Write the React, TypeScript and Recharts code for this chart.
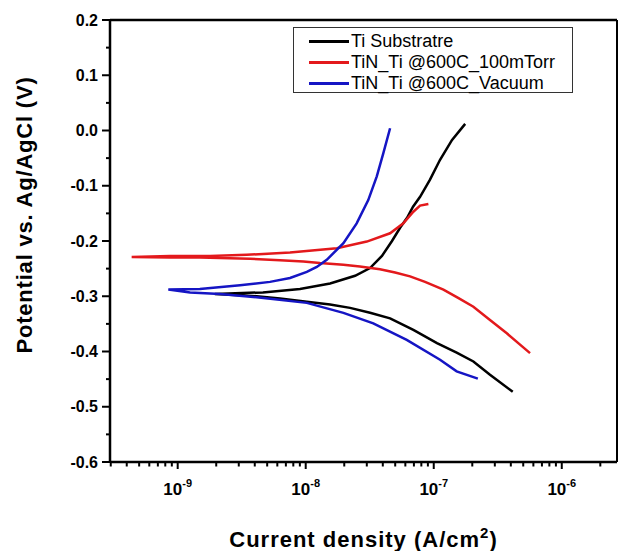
import React from "react";
import { LineChart, Line, XAxis, YAxis } from "recharts";

const FONT = "Liberation Sans, Arial, Helvetica, sans-serif";

// Ti Substratre: current density (A/cm2) and potential (V), cathodic end -> tip -> anodic end
const tiCurrent = [4.14e-7, 2.75e-7, 2.04e-7, 1.51e-7, 1.06e-7, 6.93e-8, 4.56e-8, 3.18e-8, 2.22e-8, 1.55e-8, 1.02e-8, 6.3e-9, 4.14e-9, 3.07e-9, 1.95e-9, 4.63e-9, 9.02e-9, 1.55e-8, 2.43e-8, 3.18e-8, 3.94e-8, 4.72e-8, 5.46e-8, 6.19e-8, 6.89e-8, 7.82e-8, 9.35e-8, 1.12e-7, 1.39e-7, 1.76e-7];
const tiPotential = [-0.473, -0.442, -0.418, -0.402, -0.385, -0.361, -0.34, -0.33, -0.321, -0.315, -0.31, -0.304, -0.3, -0.298, -0.296, -0.293, -0.287, -0.277, -0.263, -0.249, -0.227, -0.2, -0.176, -0.158, -0.138, -0.12, -0.089, -0.053, -0.017, 0.012];

// TiN_Ti @600C_100mTorr
const torrCurrent = [5.65e-7, 3.72e-7, 2.75e-7, 2.04e-7, 1.55e-7, 1.19e-7, 8.55e-8, 6.53e-8, 4.99e-8, 3.8e-8, 2.65e-8, 1.97e-8, 1.29e-8, 9.58e-9, 6.3e-9, 3.67e-9, 1.49e-9, 8.71e-10, 4.37e-10, 8.71e-10, 1.79e-9, 3.46e-9, 7.54e-9, 1.75e-8, 3.0e-8, 4.56e-8, 5.79e-8, 6.93e-8, 7.82e-8, 9.08e-8];
const torrPotential = [-0.403, -0.367, -0.343, -0.319, -0.303, -0.288, -0.274, -0.264, -0.257, -0.251, -0.246, -0.243, -0.24, -0.237, -0.235, -0.232, -0.23, -0.23, -0.229, -0.227, -0.227, -0.225, -0.221, -0.213, -0.201, -0.186, -0.168, -0.147, -0.136, -0.133];

// TiN_Ti @600C_Vacuum
const vacCurrent = [2.21e-7, 1.51e-7, 1.12e-7, 6.15e-8, 3.37e-8, 1.97e-8, 1.02e-8, 4.14e-9, 2.14e-9, 1.25e-9, 8.45e-10, 1.49e-9, 3.07e-9, 5.26e-9, 7.54e-9, 1.02e-8, 1.22e-8, 1.46e-8, 1.97e-8, 2.5e-8, 3.08e-8, 3.59e-8, 4.04e-8, 4.56e-8];
const vacPotential = [-0.449, -0.436, -0.415, -0.379, -0.349, -0.33, -0.312, -0.302, -0.296, -0.293, -0.288, -0.287, -0.28, -0.274, -0.267, -0.256, -0.247, -0.234, -0.204, -0.168, -0.126, -0.083, -0.041, 0.004];

const seriesNames = ["Ti Substratre", "TiN_Ti @600C_100mTorr", "TiN_Ti @600C_Vacuum"];
const seriesColors = ["#000000", "#e3191c", "#1515c4"];

const xDomain = [2.96e-10, 2.7e-6];
const xTicks = [
  3e-10, 4e-10, 5e-10, 6e-10, 7e-10, 8e-10, 9e-10,
  1e-9, 2e-9, 3e-9, 4e-9, 5e-9, 6e-9, 7e-9, 8e-9, 9e-9,
  1e-8, 2e-8, 3e-8, 4e-8, 5e-8, 6e-8, 7e-8, 8e-8, 9e-8,
  1e-7, 2e-7, 3e-7, 4e-7, 5e-7, 6e-7, 7e-7, 8e-7, 9e-7,
  1e-6, 2e-6,
];
const xMajor = [1e-9, 1e-8, 1e-7, 1e-6];
const xMajorExp = ["-9", "-8", "-7", "-6"];

const yDomain = [-0.6, 0.2];
const yTicks = [-0.6, -0.55, -0.5, -0.45, -0.4, -0.35, -0.3, -0.25, -0.2, -0.15, -0.1, -0.05, 0, 0.05, 0.1, 0.15, 0.2];
const yLabels = ["-0.6", "-0.5", "-0.4", "-0.3", "-0.2", "-0.1", "0.0", "0.1", "0.2"];

const xTitle = "Current density (A/cm";
const xTitleSup = "2";
const yTitle = "Potential vs. Ag/AgCl (V)";

// layout of the chart (page pixels)
const W = 619;
const H = 551;
const PLOT = { left: 110, top: 20, right: 617, bottom: 462 };

const toPoints = (cur: number[], pot: number[]) => cur.map((c, k) => ({ i: c, v: pot[k] }));
const tiData = toPoints(tiCurrent, tiPotential);
const torrData = toPoints(torrCurrent, torrPotential);
const vacData = toPoints(vacCurrent, vacPotential);

const isMajorX = (v: number) => xMajor.findIndex((m) => Math.abs(m - v) / m < 1e-6);
const yLabelOf = (v: number) => yLabels.find((l) => Math.abs(parseFloat(l) - v) < 1e-6);

const renderXTick = (props: any) => {
  const { x, y, payload } = props;
  const idx = isMajorX(payload.value);
  if (idx < 0) return <g />;
  return (
    <text x={x} y={Number(y) + 33} textAnchor="middle" fill="#000000" fontSize={17} fontWeight="bold" fontFamily={FONT}>
      <tspan>10</tspan>
      <tspan dy={-8} fontSize={11}>{xMajorExp[idx]}</tspan>
    </text>
  );
};

const renderYTick = (props: any) => {
  const { x, y, payload } = props;
  const lbl = yLabelOf(payload.value);
  if (lbl === undefined) return <g />;
  return (
    <text x={Number(x) - 12} y={Number(y) + 5.5} textAnchor="end" fill="#000000" fontSize={16} fontWeight="bold" fontFamily={FONT}>
      {lbl}
    </text>
  );
};

// tick marks and frame drawn on the same log/linear mapping as the axes
const lx0 = Math.log10(xDomain[0]);
const lx1 = Math.log10(xDomain[1]);
const px = (v: number) => PLOT.left + ((Math.log10(v) - lx0) / (lx1 - lx0)) * (PLOT.right - PLOT.left);
const py = (v: number) => PLOT.top + ((yDomain[1] - v) / (yDomain[1] - yDomain[0])) * (PLOT.bottom - PLOT.top);

function Overlay() {
  return (
    <svg width={W} height={H} style={{ position: "absolute", left: 0, top: 0, pointerEvents: "none" }}>
      <path d={`M${PLOT.left},${PLOT.top}L${PLOT.right},${PLOT.top}`} stroke="#000000" strokeWidth={2.5} fill="none" />
      <path d={`M${PLOT.right},${PLOT.top}L${PLOT.right},${PLOT.bottom}`} stroke="#000000" strokeWidth={2} fill="none" />
      {xTicks.map((v, k) => {
        const xx = px(v);
        const len = isMajorX(v) >= 0 ? 7 : 4.5;
        return <path key={`xm${k}`} d={`M${xx},${PLOT.bottom}L${xx},${PLOT.bottom + len}`} stroke="#000000" strokeWidth={2} fill="none" />;
      })}
      {yTicks.map((v, k) => {
        const yy = py(v);
        const len = yLabelOf(v) !== undefined ? 8 : 4;
        return <path key={`ym${k}`} d={`M${PLOT.left - len},${yy}L${PLOT.left},${yy}`} stroke="#000000" strokeWidth={2} fill="none" />;
      })}
      <text x={(PLOT.left + PLOT.right) / 2} y={547} textAnchor="middle" fill="#000000" fontSize={22} fontWeight="bold" fontFamily={FONT} letterSpacing={1}>
        <tspan>{xTitle}</tspan>
        <tspan dy={-9} fontSize={15}>{xTitleSup}</tspan>
        <tspan dy={9}>)</tspan>
      </text>
      <text transform="translate(32,215) rotate(-90)" textAnchor="middle" fill="#000000" fontSize={22} fontWeight="bold" fontFamily={FONT} letterSpacing={0.8}>
        {yTitle}
      </text>
    </svg>
  );
}

function LegendBox() {
  return (
    <div
      style={{
        position: "absolute",
        left: 293,
        top: 27,
        width: 280,
        height: 66,
        boxSizing: "border-box",
        border: "1px solid #333",
        background: "#fff",
        paddingTop: 3,
        fontFamily: FONT,
        fontSize: 18,
        color: "#000",
      }}
    >
      {seriesNames.map((name, k) => (
        <div key={k} style={{ height: 21, display: "flex", alignItems: "center", paddingLeft: 15 }}>
          <div style={{ width: 40, height: 2.5, background: seriesColors[k] }} />
          <span style={{ marginLeft: 2, whiteSpace: "nowrap", lineHeight: "21px" }}>{name}</span>
        </div>
      ))}
    </div>
  );
}

export default function App() {
  return (
    <div style={{ position: "absolute", left: 0, top: 0, width: W, height: H, background: "#fff" }}>
      <LineChart width={W} height={H} margin={{ top: PLOT.top, right: W - PLOT.right, bottom: 0, left: 0 }}>
        <XAxis
          dataKey="i"
          type="number"
          scale="log"
          domain={xDomain}
          allowDataOverflow
          ticks={xTicks}
          interval={0}
          tick={renderXTick}
          tickLine={false}
          tickSize={0}
          tickMargin={0}
          height={H - PLOT.bottom}
          axisLine={{ stroke: "#000", strokeWidth: 2.5 }}
        />
        <YAxis
          type="number"
          domain={yDomain}
          allowDataOverflow
          ticks={yTicks}
          interval={0}
          tick={renderYTick}
          tickLine={false}
          tickSize={0}
          tickMargin={0}
          width={PLOT.left}
          axisLine={{ stroke: "#000", strokeWidth: 2.5 }}
        />
        <Line data={tiData} dataKey="v" name={seriesNames[0]} stroke={seriesColors[0]} strokeWidth={2.5} dot={false} type="linear" isAnimationActive={false} />
        <Line data={torrData} dataKey="v" name={seriesNames[1]} stroke={seriesColors[1]} strokeWidth={2.5} dot={false} type="linear" isAnimationActive={false} />
        <Line data={vacData} dataKey="v" name={seriesNames[2]} stroke={seriesColors[2]} strokeWidth={2.5} dot={false} type="linear" isAnimationActive={false} />
      </LineChart>
      <Overlay />
      <LegendBox />
    </div>
  );
}
